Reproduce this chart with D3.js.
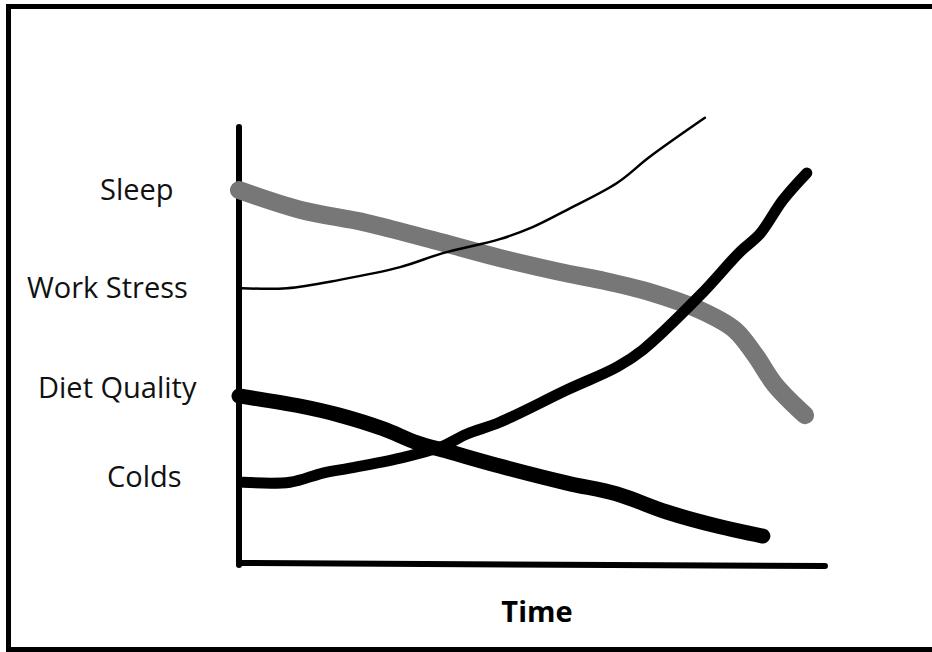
<!DOCTYPE html>
<html>
<head>
<meta charset="utf-8">
<script src="https://cdn.jsdelivr.net/npm/d3@7/dist/d3.min.js"></script>
<style>
  html, body { margin: 0; padding: 0; background: #fff; overflow: hidden; }
  svg { display: block; }
</style>
</head>
<body>
<div id="chart"></div>
<script>
// ---- Data (time 0..100, level 0..100) ----
const categories = ["Sleep", "Work Stress", "Diet Quality", "Colds"];
const categoryLevels = [85.6, 63.2, 40.4, 20.1];
const xAxisLabel = "Time";

const sleepTime   = [0, 10.4, 21.8, 33.1, 44.5, 54.8, 61.6, 70.1, 78.7, 84.6, 88.1, 91.5, 96.6];
const sleepValues = [85.6, 81.1, 78.1, 74.2, 70.1, 66.9, 65.1, 62.3, 58.2, 53.7, 47.9, 41.1, 34.2];

const stressTime   = [0.5, 8.2, 17.2, 27.5, 34.8, 44.5, 50.2, 56.0, 64.5, 70.1, 79.5];
const stressValues = [63.2, 63.2, 65.1, 68.0, 71.2, 74.4, 77.2, 81.1, 87.2, 93.2, 102.1];

const dietTime   = [0, 10.4, 17.2, 24.6, 30.4, 36.0, 44.5, 56.0, 64.5, 73.0, 81.6, 89.4];
const dietValues = [38.6, 36.3, 34.2, 31.1, 27.9, 25.8, 22.6, 18.7, 16.2, 12.1, 8.9, 6.6];

const coldsTime   = [0.7, 8.7, 14.3, 18.9, 27.5, 34.3, 38.9, 44.5, 56.0, 64.5, 68.9, 78.7, 85.5, 88.9, 92.8, 96.9];
const coldsValues = [18.9, 18.9, 21.0, 22.1, 24.4, 26.9, 29.9, 32.6, 40.0, 45.2, 49.1, 61.6, 71.5, 75.6, 83.3, 89.5];

// ---- Layout / style ----
const W = 932, H = 652;
const labelX = [100, 27, 38, 107];
const seriesStyle = [
  { time: sleepTime,  values: sleepValues,  color: "#777777", width: 18 },
  { time: stressTime, values: stressValues, color: "#000000", width: 2.5 },
  { time: dietTime,   values: dietValues,   color: "#000000", width: 15 },
  { time: coldsTime,  values: coldsValues,  color: "#000000", width: 11 }
];

const svg = d3.select("#chart").append("svg")
  .attr("width", W).attr("height", H);

svg.append("rect").attr("width", W).attr("height", H).attr("fill", "#fff");

// frame (no right edge visible)
svg.append("path")
  .attr("d", "M940,6.5 H8.5 V649.5 H940")
  .attr("fill", "none").attr("stroke", "#000").attr("stroke-width", 5);

const x = d3.scaleLinear().domain([0, 100]).range([239, 825]);
const y = d3.scaleLinear().domain([0, 100]).range([565, 127]);

// axes (hand-drawn look: plain thick lines)
const axisG = svg.append("g");
axisG.append("line")
  .attr("x1", x(0)).attr("x2", x(0))
  .attr("y1", y(100)).attr("y2", y(0))
  .attr("stroke", "#000").attr("stroke-width", 6).attr("stroke-linecap", "round");
axisG.append("line")
  .attr("x1", x(0)).attr("x2", x(100))
  .attr("y1", y(0) - 2).attr("y2", y(0) + 1)
  .attr("stroke", "#000").attr("stroke-width", 6).attr("stroke-linecap", "round");

// category labels
svg.append("g").selectAll("text")
  .data(categories)
  .join("text")
  .attr("x", (d, i) => labelX[i])
  .attr("y", (d, i) => y(categoryLevels[i]) + 10)
  .attr("font-family", "'Open Sans', 'Noto Sans', sans-serif")
  .attr("font-size", 29)
  .attr("fill", "#111")
  .text(d => d);

// x label
svg.append("text")
  .attr("x", 537).attr("y", 622)
  .attr("text-anchor", "middle")
  .attr("font-family", "'Open Sans', 'Noto Sans', sans-serif")
  .attr("font-weight", "bold")
  .attr("font-size", 29)
  .attr("fill", "#000")
  .text(xAxisLabel);

// series lines
const line = d3.line()
  .x(d => x(d[0]))
  .y(d => y(d[1]))
  .curve(d3.curveCatmullRom.alpha(0.5));

svg.append("g").selectAll("path")
  .data(seriesStyle)
  .join("path")
  .attr("d", s => line(s.time.map((t, i) => [t, s.values[i]])))
  .attr("fill", "none")
  .attr("stroke", s => s.color)
  .attr("stroke-width", s => s.width)
  .attr("stroke-linecap", "round")
  .attr("stroke-linejoin", "round");
</script>
</body>
</html>
